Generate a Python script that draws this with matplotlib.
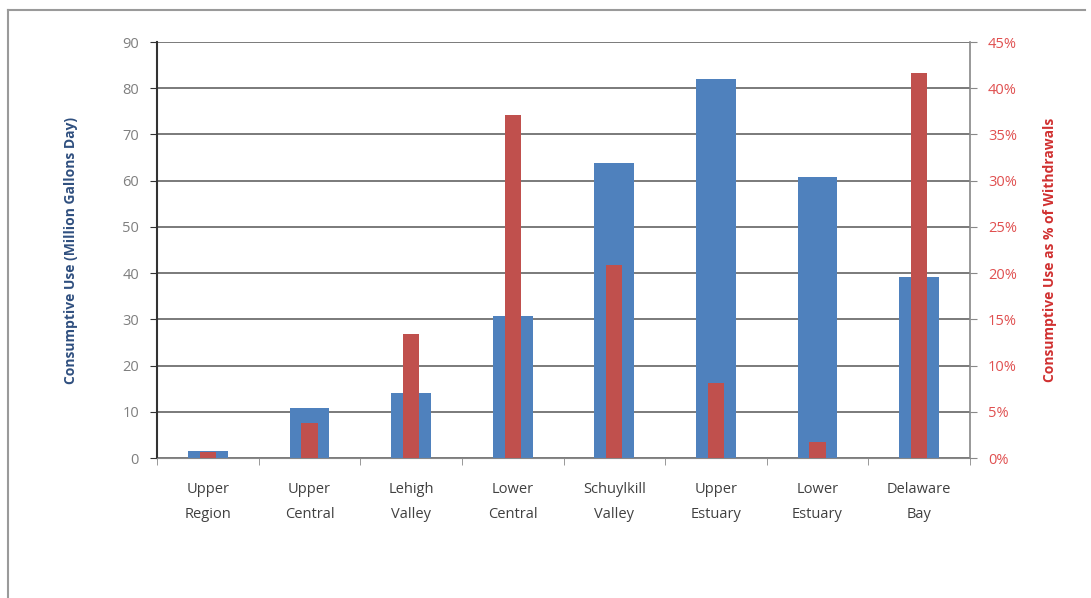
import matplotlib
matplotlib.use("Agg")
import matplotlib.pyplot as plt
import numpy as np
from matplotlib.ticker import FixedLocator, FuncFormatter

categories = ["Upper\nRegion", "Upper\nCentral", "Lehigh\nValley", "Lower\nCentral",
              "Schuylkill\nValley", "Upper\nEstuary", "Lower\nEstuary", "Delaware\nBay"]
consumptive_mgd = [1.6, 10.8, 14.0, 30.7, 63.8, 82.0, 60.8, 39.2]
pct_withdrawals = [0.7, 3.8, 13.4, 37.1, 20.9, 8.1, 1.7, 41.6]
left_ticks = [0, 10, 20, 30, 40, 50, 60, 70, 80, 90]
right_ticks = [0, 5, 10, 15, 20, 25, 30, 35, 40, 45]

blue = "#4F81BD"
red = "#C0504D"

plt.rcParams['font.family'] = ['Open Sans', 'DejaVu Sans']

fig = plt.figure(figsize=(10.91, 5.98), dpi=100)
# outer border (top and left visible)
fig.add_artist(plt.Line2D([8/1091, 1085/1091], [1-10/598, 1-10/598], color="#9a9a9a", lw=1.5))
fig.add_artist(plt.Line2D([8/1091, 8/1091], [1-10/598, 0], color="#9a9a9a", lw=1.5))

ax = fig.add_axes([157/1091, 1-458/598, (970-157)/1091, (458-42)/598])
x = np.arange(len(categories))
ax.bar(x, consumptive_mgd, width=0.39, color=blue, zorder=2)
ax.set_xlim(-0.5, len(categories)-0.5)
ax.set_ylim(0, 90)
ax.yaxis.set_major_locator(FixedLocator(left_ticks))
ax.set_axisbelow(True)
ax.grid(axis='y', color="#7a7a7a", lw=1.4)
ax.set_xticks(x)
ax.set_xticklabels(categories, fontsize=10.5, color="#404040", linespacing=1.9)
ax.tick_params(axis='x', length=0, pad=17)
ax.set_xticks(np.arange(-0.5, len(categories)), minor=True)
ax.tick_params(axis='x', which='minor', length=5, color="#888888", direction='out')
ax.tick_params(axis='y', length=5, color="#333333", labelcolor="#7f7f7f", labelsize=10.5, pad=8)
ax.spines['top'].set_visible(False)
ax.spines['left'].set_color("#333333")
ax.spines['left'].set_linewidth(1.5)
ax.spines['bottom'].set_color("#888888")
ax.spines['right'].set_visible(False)
ax.set_ylabel("Consumptive Use (Million Gallons Day)", fontsize=10, fontweight='bold',
              color="#2F4F7F", labelpad=32)

ax2 = ax.twinx()
ax2.bar(x, pct_withdrawals, width=0.16, color=red, zorder=3)
ax2.set_ylim(0, 45)
ax2.yaxis.set_major_locator(FixedLocator(right_ticks))
ax2.yaxis.set_major_formatter(FuncFormatter(lambda v, p: f"{int(v)}%"))
ax2.tick_params(axis='y', length=5, color="#888888", labelcolor="#E05050", labelsize=10.5, pad=8)
ax2.spines['top'].set_visible(False)
ax2.spines['left'].set_visible(False)
ax2.spines['bottom'].set_visible(False)
ax2.spines['right'].set_color("#888888")
ax2.spines['right'].set_linewidth(1.2)
ax2.set_ylabel("Consumptive Use as % of Withdrawals", fontsize=10, fontweight='bold',
               color="#D03030", labelpad=19)

fig.savefig("out.png", dpi=100, facecolor="white")
